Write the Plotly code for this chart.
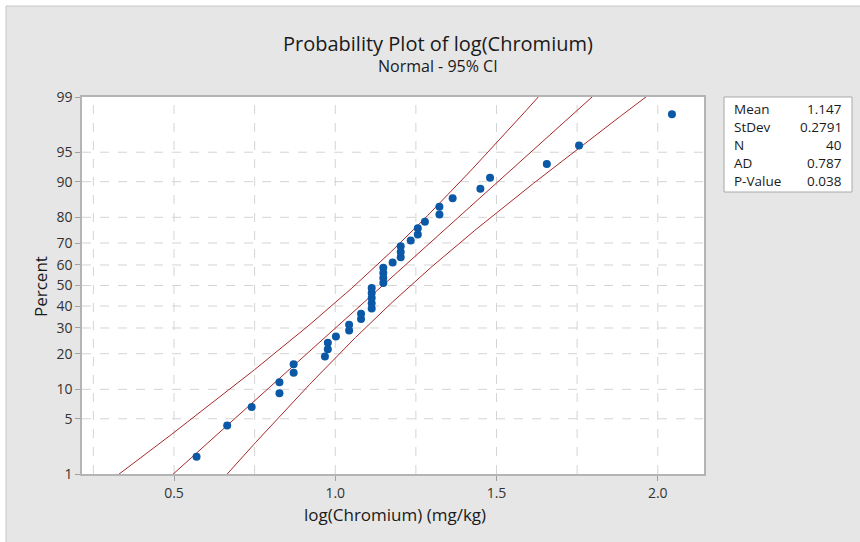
import plotly.graph_objects as go
from statistics import NormalDist

# ---- data ----
log_chromium = [0.570, 0.665, 0.741, 0.827, 0.827, 0.871, 0.871, 0.968, 0.977, 0.977,
                1.002, 1.043, 1.043, 1.080, 1.080, 1.113, 1.113, 1.113, 1.113, 1.113,
                1.149, 1.149, 1.149, 1.149, 1.178, 1.203, 1.203, 1.203, 1.234, 1.256,
                1.256, 1.278, 1.323, 1.323, 1.364, 1.450, 1.480, 1.656, 1.756, 2.044]
stat_names = ["Mean", "StDev", "N", "AD", "P-Value"]
stat_values = ["1.147", "0.2791", "40", "0.787", "0.038"]
mean_val = 1.147
sd_val = 0.2791
percent_ticks = [1, 5, 10, 20, 30, 40, 50, 60, 70, 80, 90, 95, 99]
x_ticks = [0.5, 1.0, 1.5, 2.0]

nd = NormalDist()
n = len(log_chromium)
xs = sorted(log_chromium)
zs = [nd.inv_cdf((i + 1 - 0.3) / (n + 0.4)) for i in range(n)]

# fitted line and 95% CI bands
zgrid = [-3.2 + 0.02 * k for k in range(321)]
fit = [mean_val + sd_val * z for z in zgrid]
half = [1.96 * sd_val * (1.0 / n + z * z / (2.0 * n)) ** 0.5 for z in zgrid]
lower = [f - h for f, h in zip(fit, half)]
upper = [f + h for f, h in zip(fit, half)]

fig = go.Figure()
red = "#a82828"
for xv in (lower, fit, upper):
    fig.add_trace(go.Scatter(x=xv, y=zgrid, mode="lines",
                             line=dict(color=red, width=1), hoverinfo="skip"))
fig.add_trace(go.Scatter(x=xs, y=zs, mode="markers",
                         marker=dict(color="#0a58a6", size=8)))

# geometry in pixels
L, R, T, B = 82, 704, 97, 474
W, H = R - L, B - T
def px(xp):
    return (xp - L) / W
def py(yp):
    return (B - yp) / H

zlim = nd.inv_cdf(0.99)
font = "Open Sans, Noto Sans, sans-serif"
fig.update_layout(
    width=860, height=542,
    margin=dict(l=L, r=860 - R, t=T, b=542 - B),
    paper_bgcolor="white", plot_bgcolor="white",
    showlegend=False,
    font=dict(family=font, color="#333333", size=13),
    xaxis=dict(range=[0.5 - (174 - L) / 322.5, 0.5 + (R - 174) / 322.5],
               tickvals=x_ticks, ticktext=["0.5", "1.0", "1.5", "2.0"],
               showgrid=False, zeroline=False,
               showline=True, linecolor="#b4b4b4", linewidth=1.5, mirror=True,
               ticks="outside", ticklen=5, tickcolor="#a0a0a0",
               tickfont=dict(size=14, color="#333333")),
    yaxis=dict(range=[-zlim, zlim],
               tickvals=[nd.inv_cdf(p / 100) for p in percent_ticks],
               ticktext=[str(p) for p in percent_ticks],
               showgrid=False, zeroline=False,
               showline=True, linecolor="#b4b4b4", linewidth=1.5, mirror=True,
               ticks="outside", ticklen=5, tickcolor="#a0a0a0",
               tickfont=dict(size=14, color="#333333")),
)

shapes = []
# gray outer panel
shapes.append(dict(type="rect", xref="paper", yref="paper", layer="below",
                   x0=px(6), x1=px(862), y0=py(544), y1=py(6),
                   fillcolor="#e6e6e6", line=dict(color="#c8c8c8", width=1)))
# white plot area
shapes.append(dict(type="rect", xref="paper", yref="paper", layer="below",
                   x0=0, x1=1, y0=0, y1=1, fillcolor="white", line=dict(width=0)))
# dashed grid lines
grid_x = [0.25, 0.5, 0.75, 1.0, 1.25, 1.5, 1.75, 2.0]
for g in grid_x:
    shapes.append(dict(type="line", xref="x", yref="paper", layer="below",
                       x0=g, x1=g, y0=0, y1=1,
                       line=dict(color="#d4d4d4", width=1, dash="dash")))
for p in percent_ticks[1:-1]:
    z = nd.inv_cdf(p / 100)
    shapes.append(dict(type="line", xref="paper", yref="y", layer="below",
                       x0=0, x1=1, y0=z, y1=z,
                       line=dict(color="#d4d4d4", width=1, dash="dash")))
# stats box
shapes.append(dict(type="rect", xref="paper", yref="paper", layer="above",
                   x0=px(724), x1=px(852), y0=py(192), y1=py(97),
                   fillcolor="white", line=dict(color="#a8a8a8", width=1)))
fig.update_layout(shapes=shapes)

def txt(text, x, y, size, xanchor="center", angle=0):
    return dict(text=text, xref="paper", yref="paper", x=px(x), y=py(y),
                xanchor=xanchor, yanchor="middle", textangle=angle,
                showarrow=False, borderpad=0,
                font=dict(size=size, color="#1a1a1a", family=font))

ann = [
    txt("Probability Plot of log(Chromium)", 438, 43, 20),
    txt("Normal - 95% CI", 438, 66, 16),
    txt("log(Chromium) (mg/kg)", 395, 514, 17),
    txt("Percent", 40, 287, 17, angle=-90),
]
row_y = [109, 127, 145, 163, 181]
for name, val, ry in zip(stat_names, stat_values, row_y):
    ann.append(txt(name, 733, ry, 13.5, xanchor="left"))
    ann.append(txt(val, 843, ry, 13.5, xanchor="right"))
fig.update_layout(annotations=ann)

fig.write_html("out.html")
